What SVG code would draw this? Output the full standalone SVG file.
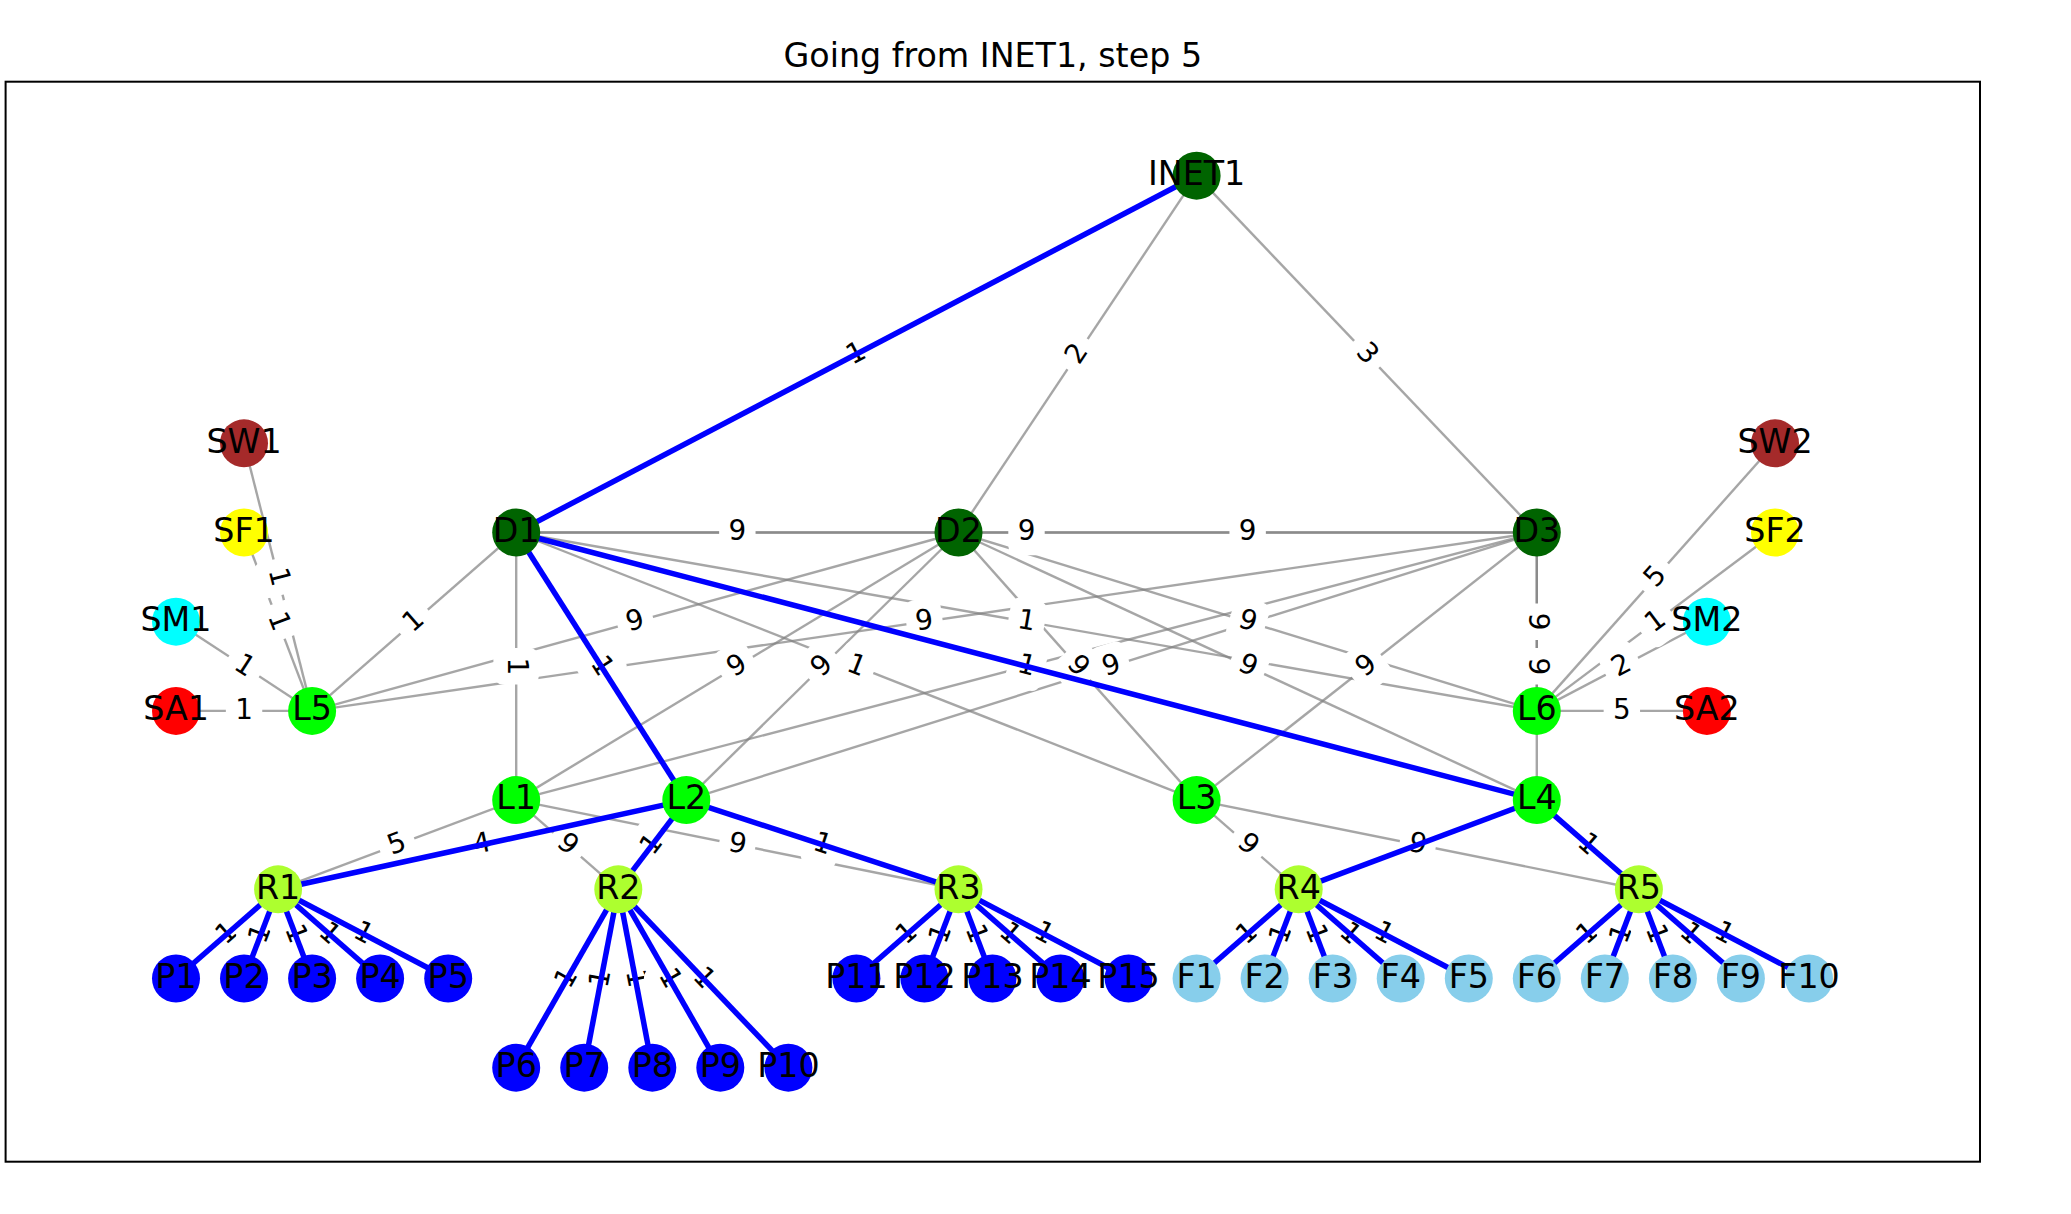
<svg xmlns="http://www.w3.org/2000/svg" xmlns:xlink="http://www.w3.org/1999/xlink" width="2071" height="1214" viewBox="0 0 2071 1214">
<style>
.g{stroke:#808080;stroke-opacity:0.7;stroke-width:2.4;fill:none}
.b{stroke:#0000ff;stroke-width:5.5;fill:none}
.lb{fill:#ffffff;stroke:#ffffff;stroke-width:2}
.el text{font-family:"DejaVu Sans",Verdana,sans-serif;font-size:27.8px;text-anchor:middle;fill:#000}
.n text{font-family:"DejaVu Sans",Verdana,sans-serif;font-size:33.3px;text-anchor:middle;fill:#000}
.title{font-family:"DejaVu Sans",Verdana,sans-serif;font-size:33.3px;text-anchor:middle;fill:#000}
.dg{fill:#006400}.lm{fill:#00ff00}.gy{fill:#adff2f}.bl{fill:#0000ff}.sk{fill:#87ceeb}
.br{fill:#a52a2a}.ye{fill:#ffff00}.cy{fill:#00ffff}.rd{fill:#ff0000}
</style>
<defs>
<rect id="box" class="lb" x="-17.2" y="-21.8" width="34.4" height="43.6" rx="8.3" ry="8.3"/>
</defs>
<rect width="2071" height="1214" fill="#ffffff"/>
<text class="title" x="992.8" y="66.5">Going from INET1, step 5</text>
<rect x="5.6" y="81.7" width="1974.4" height="1080" fill="none" stroke="#000" stroke-width="2"/>

<g id="connectors">
<g id="gray-edges">
<line class="g" x1="1196.6" y1="175.7" x2="958.5" y2="532.5"/>
<line class="g" x1="1196.6" y1="175.7" x2="1536.8" y2="532.5"/>
<line class="g" x1="516.2" y1="532.5" x2="958.5" y2="532.5"/>
<line class="g" x1="516.2" y1="532.5" x2="1536.8" y2="532.5"/>
<line class="g" x1="958.5" y1="532.5" x2="1536.8" y2="532.5"/>
<line class="g" x1="516.2" y1="532.5" x2="312.1" y2="710.9"/>
<line class="g" x1="516.2" y1="532.5" x2="516.2" y2="800.1"/>
<line class="g" x1="516.2" y1="532.5" x2="1536.8" y2="710.9"/>
<line class="g" x1="516.2" y1="532.5" x2="1196.6" y2="800.1"/>
<line class="g" x1="958.5" y1="532.5" x2="312.1" y2="710.9"/>
<line class="g" x1="958.5" y1="532.5" x2="516.2" y2="800.1"/>
<line class="g" x1="958.5" y1="532.5" x2="686.3" y2="800.1"/>
<line class="g" x1="958.5" y1="532.5" x2="1196.6" y2="800.1"/>
<line class="g" x1="958.5" y1="532.5" x2="1536.8" y2="710.9"/>
<line class="g" x1="958.5" y1="532.5" x2="1536.8" y2="800.1"/>
<line class="g" x1="1536.8" y1="532.5" x2="312.1" y2="710.9"/>
<line class="g" x1="1536.8" y1="532.5" x2="516.2" y2="800.1"/>
<line class="g" x1="1536.8" y1="532.5" x2="686.3" y2="800.1"/>
<line class="g" x1="1536.8" y1="532.5" x2="1196.6" y2="800.1"/>
<line class="g" x1="1536.8" y1="532.5" x2="1536.8" y2="710.9"/>
<line class="g" x1="1536.8" y1="532.5" x2="1536.8" y2="800.1"/>
<line class="g" x1="312.1" y1="710.9" x2="244" y2="443.3"/>
<line class="g" x1="312.1" y1="710.9" x2="244" y2="532.5"/>
<line class="g" x1="312.1" y1="710.9" x2="176" y2="621.7"/>
<line class="g" x1="312.1" y1="710.9" x2="176" y2="710.9"/>
<line class="g" x1="1536.8" y1="710.9" x2="1775" y2="443.3"/>
<line class="g" x1="1536.8" y1="710.9" x2="1775" y2="532.5"/>
<line class="g" x1="1536.8" y1="710.9" x2="1706.9" y2="621.7"/>
<line class="g" x1="1536.8" y1="710.9" x2="1706.9" y2="710.9"/>
<line class="g" x1="516.2" y1="800.1" x2="278.1" y2="889.3"/>
<line class="g" x1="516.2" y1="800.1" x2="618.3" y2="889.3"/>
<line class="g" x1="516.2" y1="800.1" x2="958.5" y2="889.3"/>
<line class="g" x1="1196.6" y1="800.1" x2="1298.7" y2="889.3"/>
<line class="g" x1="1196.6" y1="800.1" x2="1638.9" y2="889.3"/>
</g>

<g id="edge-labels" class="el">
<g transform="translate(1077.55,354.1) rotate(-56.24)"><use xlink:href="#box"/><text y="7.7">2</text></g>
<g transform="translate(1366.7,354.1) rotate(46.32)"><use xlink:href="#box"/><text y="7.7">3</text></g>
<g transform="translate(856.4,354.1) rotate(-27.64)"><use xlink:href="#box"/><text y="7.7">1</text></g>
<g transform="translate(737.35,532.5)"><use xlink:href="#box"/><text y="7.7">9</text></g>
<g transform="translate(1026.5,532.5)"><use xlink:href="#box"/><text y="7.7">9</text></g>
<g transform="translate(1247.65,532.5)"><use xlink:href="#box"/><text y="7.7">9</text></g>
<g transform="translate(414.15,621.7) rotate(-41.11)"><use xlink:href="#box"/><text y="7.7">1</text></g>
<g transform="translate(516.2,666.3) rotate(90)"><use xlink:href="#box"/><text y="7.7">1</text></g>
<g transform="translate(1026.5,621.7) rotate(9.9)"><use xlink:href="#box"/><text y="7.7">1</text></g>
<g transform="translate(856.4,666.3) rotate(21.44)"><use xlink:href="#box"/><text y="7.7">1</text></g>
<g transform="translate(601.25,666.3) rotate(57.51)"><use xlink:href="#box"/><text y="7.7">1</text></g>
<g transform="translate(635.3,621.7) rotate(-15.41)"><use xlink:href="#box"/><text y="7.7">9</text></g>
<g transform="translate(737.35,666.3) rotate(-31.14)"><use xlink:href="#box"/><text y="7.7">9</text></g>
<g transform="translate(822.4,666.3) rotate(-44.48)"><use xlink:href="#box"/><text y="7.7">9</text></g>
<g transform="translate(1077.55,666.3) rotate(48.29)"><use xlink:href="#box"/><text y="7.7">9</text></g>
<g transform="translate(1247.65,621.7) rotate(17.12)"><use xlink:href="#box"/><text y="7.7">9</text></g>
<g transform="translate(1247.65,666.3) rotate(24.8)"><use xlink:href="#box"/><text y="7.7">9</text></g>
<g transform="translate(924.45,621.7) rotate(-8.28)"><use xlink:href="#box"/><text y="7.7">9</text></g>
<g transform="translate(1026.5,666.3) rotate(-14.67)"><use xlink:href="#box"/><text y="7.7">9</text></g>
<g transform="translate(1026.5,666.3) rotate(14.67)"><use xlink:href="#box"/><text y="7.7">1</text></g>
<g transform="translate(1111.55,666.3) rotate(-17.44)"><use xlink:href="#box"/><text y="7.7">9</text></g>
<g transform="translate(1366.7,666.3) rotate(-38.15)"><use xlink:href="#box"/><text y="7.7">9</text></g>
<g transform="translate(1536.8,621.7) rotate(90)"><use xlink:href="#box"/><text y="7.7">9</text></g>
<g transform="translate(1536.8,666.3) rotate(90)"><use xlink:href="#box"/><text y="7.7">9</text></g>
<g transform="translate(278.05,577.1) rotate(75.7)"><use xlink:href="#box"/><text y="7.7">1</text></g>
<g transform="translate(278.05,621.7) rotate(69.08)"><use xlink:href="#box"/><text y="7.7">1</text></g>
<g transform="translate(244.05,666.3) rotate(33.2)"><use xlink:href="#box"/><text y="7.7">1</text></g>
<g transform="translate(244.05,710.9)"><use xlink:href="#box"/><text y="7.7">1</text></g>
<g transform="translate(1655.9,577.1) rotate(-48.29)"><use xlink:href="#box"/><text y="7.7">5</text></g>
<g transform="translate(1655.9,621.7) rotate(-36.8)"><use xlink:href="#box"/><text y="7.7">1</text></g>
<g transform="translate(1621.85,666.3) rotate(-27.63)"><use xlink:href="#box"/><text y="7.7">2</text></g>
<g transform="translate(1621.85,710.9)"><use xlink:href="#box"/><text y="7.7">5</text></g>
<g transform="translate(397.15,844.7) rotate(-20.5)"><use xlink:href="#box"/><text y="7.7">5</text></g>
<g transform="translate(567.25,844.7) rotate(41.11)"><use xlink:href="#box"/><text y="7.7">9</text></g>
<g transform="translate(737.35,844.7) rotate(11.39)"><use xlink:href="#box"/><text y="7.7">9</text></g>
<g transform="translate(482.2,844.7) rotate(-12.31)"><use xlink:href="#box"/><text y="7.7">4</text></g>
<g transform="translate(652.3,844.7) rotate(-52.6)"><use xlink:href="#box"/><text y="7.7">1</text></g>
<g transform="translate(822.4,844.7) rotate(18.12)"><use xlink:href="#box"/><text y="7.7">1</text></g>
<g transform="translate(1247.65,844.7) rotate(41.11)"><use xlink:href="#box"/><text y="7.7">9</text></g>
<g transform="translate(1417.75,844.7) rotate(11.39)"><use xlink:href="#box"/><text y="7.7">9</text></g>
<g transform="translate(1587.85,844.7) rotate(41.11)"><use xlink:href="#box"/><text y="7.7">1</text></g>
<g transform="translate(227.05,933.9) rotate(-41.11)"><use xlink:href="#box"/><text y="7.7">1</text></g>
<g transform="translate(261.05,933.9) rotate(-69.08)"><use xlink:href="#box"/><text y="7.7">1</text></g>
<g transform="translate(295.1,933.9) rotate(69.08)"><use xlink:href="#box"/><text y="7.7">1</text></g>
<g transform="translate(329.1,933.9) rotate(41.11)"><use xlink:href="#box"/><text y="7.7">1</text></g>
<g transform="translate(363.15,933.9) rotate(27.63)"><use xlink:href="#box"/><text y="7.7">1</text></g>
<g transform="translate(567.25,978.5) rotate(-60.19)"><use xlink:href="#box"/><text y="7.7">1</text></g>
<g transform="translate(601.25,978.5) rotate(-79.18)"><use xlink:href="#box"/><text y="7.7">1</text></g>
<g transform="translate(635.3,978.5) rotate(79.18)"><use xlink:href="#box"/><text y="7.7">1</text></g>
<g transform="translate(669.3,978.5) rotate(60.19)"><use xlink:href="#box"/><text y="7.7">1</text></g>
<g transform="translate(703.35,978.5) rotate(46.31)"><use xlink:href="#box"/><text y="7.7">1</text></g>
<g transform="translate(907.45,933.9) rotate(-41.11)"><use xlink:href="#box"/><text y="7.7">1</text></g>
<g transform="translate(941.45,933.9) rotate(-69.08)"><use xlink:href="#box"/><text y="7.7">1</text></g>
<g transform="translate(975.5,933.9) rotate(69.08)"><use xlink:href="#box"/><text y="7.7">1</text></g>
<g transform="translate(1009.5,933.9) rotate(41.11)"><use xlink:href="#box"/><text y="7.7">1</text></g>
<g transform="translate(1043.55,933.9) rotate(27.63)"><use xlink:href="#box"/><text y="7.7">1</text></g>
<g transform="translate(1247.65,933.9) rotate(-41.11)"><use xlink:href="#box"/><text y="7.7">1</text></g>
<g transform="translate(1281.65,933.9) rotate(-69.08)"><use xlink:href="#box"/><text y="7.7">1</text></g>
<g transform="translate(1315.7,933.9) rotate(69.08)"><use xlink:href="#box"/><text y="7.7">1</text></g>
<g transform="translate(1349.7,933.9) rotate(41.11)"><use xlink:href="#box"/><text y="7.7">1</text></g>
<g transform="translate(1383.75,933.9) rotate(27.63)"><use xlink:href="#box"/><text y="7.7">1</text></g>
<g transform="translate(1587.85,933.9) rotate(-41.11)"><use xlink:href="#box"/><text y="7.7">1</text></g>
<g transform="translate(1621.85,933.9) rotate(-69.08)"><use xlink:href="#box"/><text y="7.7">1</text></g>
<g transform="translate(1655.9,933.9) rotate(69.08)"><use xlink:href="#box"/><text y="7.7">1</text></g>
<g transform="translate(1689.9,933.9) rotate(41.11)"><use xlink:href="#box"/><text y="7.7">1</text></g>
<g transform="translate(1723.95,933.9) rotate(27.63)"><use xlink:href="#box"/><text y="7.7">1</text></g>
</g>

<g id="path-edges">
<line class="b" x1="1196.6" y1="175.7" x2="516.2" y2="532.5"/>
<line class="b" x1="516.2" y1="532.5" x2="686.3" y2="800.1"/>
<line class="b" x1="516.2" y1="532.5" x2="1536.8" y2="800.1"/>
<line class="b" x1="686.3" y1="800.1" x2="278.1" y2="889.3"/>
<line class="b" x1="686.3" y1="800.1" x2="618.3" y2="889.3"/>
<line class="b" x1="686.3" y1="800.1" x2="958.5" y2="889.3"/>
<line class="b" x1="1536.8" y1="800.1" x2="1298.7" y2="889.3"/>
<line class="b" x1="1536.8" y1="800.1" x2="1638.9" y2="889.3"/>
<line class="b" x1="278.1" y1="889.3" x2="176" y2="978.5"/>
<line class="b" x1="278.1" y1="889.3" x2="244" y2="978.5"/>
<line class="b" x1="278.1" y1="889.3" x2="312.1" y2="978.5"/>
<line class="b" x1="278.1" y1="889.3" x2="380.1" y2="978.5"/>
<line class="b" x1="278.1" y1="889.3" x2="448.2" y2="978.5"/>
<line class="b" x1="618.3" y1="889.3" x2="516.2" y2="1067.7"/>
<line class="b" x1="618.3" y1="889.3" x2="584.2" y2="1067.7"/>
<line class="b" x1="618.3" y1="889.3" x2="652.3" y2="1067.7"/>
<line class="b" x1="618.3" y1="889.3" x2="720.3" y2="1067.7"/>
<line class="b" x1="618.3" y1="889.3" x2="788.4" y2="1067.7"/>
<line class="b" x1="958.5" y1="889.3" x2="856.4" y2="978.5"/>
<line class="b" x1="958.5" y1="889.3" x2="924.4" y2="978.5"/>
<line class="b" x1="958.5" y1="889.3" x2="992.5" y2="978.5"/>
<line class="b" x1="958.5" y1="889.3" x2="1060.5" y2="978.5"/>
<line class="b" x1="958.5" y1="889.3" x2="1128.6" y2="978.5"/>
<line class="b" x1="1298.7" y1="889.3" x2="1196.6" y2="978.5"/>
<line class="b" x1="1298.7" y1="889.3" x2="1264.6" y2="978.5"/>
<line class="b" x1="1298.7" y1="889.3" x2="1332.7" y2="978.5"/>
<line class="b" x1="1298.7" y1="889.3" x2="1400.7" y2="978.5"/>
<line class="b" x1="1298.7" y1="889.3" x2="1468.8" y2="978.5"/>
<line class="b" x1="1638.9" y1="889.3" x2="1536.8" y2="978.5"/>
<line class="b" x1="1638.9" y1="889.3" x2="1604.8" y2="978.5"/>
<line class="b" x1="1638.9" y1="889.3" x2="1672.9" y2="978.5"/>
<line class="b" x1="1638.9" y1="889.3" x2="1740.9" y2="978.5"/>
<line class="b" x1="1638.9" y1="889.3" x2="1809" y2="978.5"/>
</g>
</g>

<g id="nodes" class="n">
<g id="INET1"><circle class="dg" cx="1196.6" cy="175.7" r="24"/><text x="1196.6" y="184.9">INET1</text></g>
<g id="SW1"><circle class="br" cx="244" cy="443.3" r="24"/><text x="244" y="452.5">SW1</text></g>
<g id="SF1"><circle class="ye" cx="244" cy="532.5" r="24"/><text x="244" y="541.7">SF1</text></g>
<g id="SM1"><circle class="cy" cx="176" cy="621.7" r="24"/><text x="176" y="630.9">SM1</text></g>
<g id="SA1"><circle class="rd" cx="176" cy="710.9" r="24"/><text x="176" y="720.1">SA1</text></g>
<g id="D1"><circle class="dg" cx="516.2" cy="532.5" r="24"/><text x="516.2" y="541.7">D1</text></g>
<g id="D2"><circle class="dg" cx="958.5" cy="532.5" r="24"/><text x="958.5" y="541.7">D2</text></g>
<g id="D3"><circle class="dg" cx="1536.8" cy="532.5" r="24"/><text x="1536.8" y="541.7">D3</text></g>
<g id="L5"><circle class="lm" cx="312.1" cy="710.9" r="24"/><text x="312.1" y="720.1">L5</text></g>
<g id="L6"><circle class="lm" cx="1536.8" cy="710.9" r="24"/><text x="1536.8" y="720.1">L6</text></g>
<g id="SW2"><circle class="br" cx="1775" cy="443.3" r="24"/><text x="1775" y="452.5">SW2</text></g>
<g id="SF2"><circle class="ye" cx="1775" cy="532.5" r="24"/><text x="1775" y="541.7">SF2</text></g>
<g id="SM2"><circle class="cy" cx="1706.9" cy="621.7" r="24"/><text x="1706.9" y="630.9">SM2</text></g>
<g id="SA2"><circle class="rd" cx="1706.9" cy="710.9" r="24"/><text x="1706.9" y="720.1">SA2</text></g>
<g id="L1"><circle class="lm" cx="516.2" cy="800.1" r="24"/><text x="516.2" y="809.3">L1</text></g>
<g id="L2"><circle class="lm" cx="686.3" cy="800.1" r="24"/><text x="686.3" y="809.3">L2</text></g>
<g id="L3"><circle class="lm" cx="1196.6" cy="800.1" r="24"/><text x="1196.6" y="809.3">L3</text></g>
<g id="L4"><circle class="lm" cx="1536.8" cy="800.1" r="24"/><text x="1536.8" y="809.3">L4</text></g>
<g id="R1"><circle class="gy" cx="278.1" cy="889.3" r="24"/><text x="278.1" y="898.5">R1</text></g>
<g id="R2"><circle class="gy" cx="618.3" cy="889.3" r="24"/><text x="618.3" y="898.5">R2</text></g>
<g id="R3"><circle class="gy" cx="958.5" cy="889.3" r="24"/><text x="958.5" y="898.5">R3</text></g>
<g id="R4"><circle class="gy" cx="1298.7" cy="889.3" r="24"/><text x="1298.7" y="898.5">R4</text></g>
<g id="R5"><circle class="gy" cx="1638.9" cy="889.3" r="24"/><text x="1638.9" y="898.5">R5</text></g>
<g id="P1"><circle class="bl" cx="176" cy="978.5" r="24"/><text x="176" y="987.7">P1</text></g>
<g id="P2"><circle class="bl" cx="244" cy="978.5" r="24"/><text x="244" y="987.7">P2</text></g>
<g id="P3"><circle class="bl" cx="312.1" cy="978.5" r="24"/><text x="312.1" y="987.7">P3</text></g>
<g id="P4"><circle class="bl" cx="380.1" cy="978.5" r="24"/><text x="380.1" y="987.7">P4</text></g>
<g id="P5"><circle class="bl" cx="448.2" cy="978.5" r="24"/><text x="448.2" y="987.7">P5</text></g>
<g id="P6"><circle class="bl" cx="516.2" cy="1067.7" r="24"/><text x="516.2" y="1076.9">P6</text></g>
<g id="P7"><circle class="bl" cx="584.2" cy="1067.7" r="24"/><text x="584.2" y="1076.9">P7</text></g>
<g id="P8"><circle class="bl" cx="652.3" cy="1067.7" r="24"/><text x="652.3" y="1076.9">P8</text></g>
<g id="P9"><circle class="bl" cx="720.3" cy="1067.7" r="24"/><text x="720.3" y="1076.9">P9</text></g>
<g id="P10"><circle class="bl" cx="788.4" cy="1067.7" r="24"/><text x="788.4" y="1076.9">P10</text></g>
<g id="P11"><circle class="bl" cx="856.4" cy="978.5" r="24"/><text x="856.4" y="987.7">P11</text></g>
<g id="P12"><circle class="bl" cx="924.4" cy="978.5" r="24"/><text x="924.4" y="987.7">P12</text></g>
<g id="P13"><circle class="bl" cx="992.5" cy="978.5" r="24"/><text x="992.5" y="987.7">P13</text></g>
<g id="P14"><circle class="bl" cx="1060.5" cy="978.5" r="24"/><text x="1060.5" y="987.7">P14</text></g>
<g id="P15"><circle class="bl" cx="1128.6" cy="978.5" r="24"/><text x="1128.6" y="987.7">P15</text></g>
<g id="F1"><circle class="sk" cx="1196.6" cy="978.5" r="24"/><text x="1196.6" y="987.7">F1</text></g>
<g id="F2"><circle class="sk" cx="1264.6" cy="978.5" r="24"/><text x="1264.6" y="987.7">F2</text></g>
<g id="F3"><circle class="sk" cx="1332.7" cy="978.5" r="24"/><text x="1332.7" y="987.7">F3</text></g>
<g id="F4"><circle class="sk" cx="1400.7" cy="978.5" r="24"/><text x="1400.7" y="987.7">F4</text></g>
<g id="F5"><circle class="sk" cx="1468.8" cy="978.5" r="24"/><text x="1468.8" y="987.7">F5</text></g>
<g id="F6"><circle class="sk" cx="1536.8" cy="978.5" r="24"/><text x="1536.8" y="987.7">F6</text></g>
<g id="F7"><circle class="sk" cx="1604.8" cy="978.5" r="24"/><text x="1604.8" y="987.7">F7</text></g>
<g id="F8"><circle class="sk" cx="1672.9" cy="978.5" r="24"/><text x="1672.9" y="987.7">F8</text></g>
<g id="F9"><circle class="sk" cx="1740.9" cy="978.5" r="24"/><text x="1740.9" y="987.7">F9</text></g>
<g id="F10"><circle class="sk" cx="1809" cy="978.5" r="24"/><text x="1809" y="987.7">F10</text></g>
</g>
</svg>
